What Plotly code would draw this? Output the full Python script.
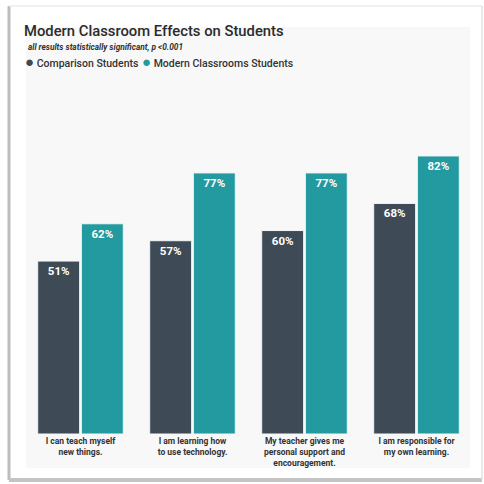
import plotly.graph_objects as go

categories = [
    "I can teach myself<br>new things.",
    "I am learning how<br>to use technology.",
    "My teacher gives me<br>personal support and<br>encouragement.",
    "I am responsible for<br>my own learning.",
]
comparison = [51, 57, 60, 68]
modern = [62, 77, 77, 82]
series_names = ["Comparison Students", "Modern Classrooms Students"]
colors = ["#3e4a55", "#229a9f"]

W = H = 484
def px(x): return x / W
def py(y): return 1 - y / H

FONT = "Roboto"
xs = list(range(len(categories)))

fig = go.Figure()
for vals, name, col in zip([comparison, modern], series_names, colors):
    fig.add_trace(go.Bar(
        x=xs, y=vals, name=name, marker_color=col,
        marker_line_color="#f4f4f4", marker_line_width=1,
        text=[f"{v}%" for v in vals], textposition="inside",
        insidetextanchor="end",
        textfont=dict(color="white", size=11.5, family=FONT, weight="bold"),
        showlegend=False, cliponaxis=False,
    ))

shapes = [
    dict(type="rect", xref="paper", yref="paper", x0=px(26), x1=px(470), y0=py(468), y1=py(27),
         fillcolor="#f8f8f8", line_width=0, layer="below"),
    dict(type="line", xref="paper", yref="paper", x0=px(9), x1=px(9), y0=py(6), y1=py(480),
         line=dict(color="#bdbdbd", width=3), layer="above"),
    dict(type="line", xref="paper", yref="paper", x0=px(9), x1=px(482), y0=py(480), y1=py(480),
         line=dict(color="#c4c4c4", width=4), layer="above"),
    dict(type="line", xref="paper", yref="paper", x0=px(9), x1=px(482), y0=py(6), y1=py(6),
         line=dict(color="#ececec", width=1.5), layer="above"),
    dict(type="line", xref="paper", yref="paper", x0=px(482), x1=px(482), y0=py(6), y1=py(480),
         line=dict(color="#e0e0e0", width=1.5), layer="above"),
]

annotations = [
    dict(text="<i>all results statistically significant, p &lt;0.001</i>", xref="paper", yref="paper",
         x=px(26), y=py(47), xanchor="left", yanchor="middle", showarrow=False,
         font=dict(size=8.3, color="#333333", family=FONT, weight="bold")),
    dict(text=f"<span style='color:{colors[0]};font-size:15px'>●</span> {series_names[0]}", xref="paper", yref="paper",
         x=px(23), y=py(62), xanchor="left", yanchor="middle", showarrow=False,
         font=dict(size=10.5, color="#333333", family=FONT, weight=500)),
    dict(text=f"<span style='color:{colors[1]};font-size:15px'>●</span> {series_names[1]}", xref="paper", yref="paper",
         x=px(140), y=py(62), xanchor="left", yanchor="middle", showarrow=False,
         font=dict(size=10.5, color="#333333", family=FONT, weight=500)),
]

fig.update_layout(
    width=W, height=H,
    margin=dict(l=0, r=0, t=0, b=0),
    paper_bgcolor="white", plot_bgcolor="rgba(0,0,0,0)",
    barmode="group", bargap=0.22, bargroupgap=0.04,
    title=dict(text="Modern Classroom Effects on Students", x=px(24), y=py(31),
               xanchor="left", yanchor="middle", xref="paper", yref="paper",
               font=dict(size=14.8, color="#2b2b2b", family=FONT, weight=500)),
    xaxis=dict(domain=[px(24.5), px(472.5)], tickvals=xs, ticktext=categories,
               range=[-0.5, len(categories) - 0.5],
               showgrid=False, zeroline=False, showline=False, ticks="",
               tickfont=dict(size=8.5, color="#333333", family=FONT, weight="bold")),
    yaxis=dict(domain=[py(434), py(80)], range=[0, 104.4], visible=False),
    shapes=shapes, annotations=annotations,
    font=dict(family=FONT),
)

fig.write_html("out.html")
